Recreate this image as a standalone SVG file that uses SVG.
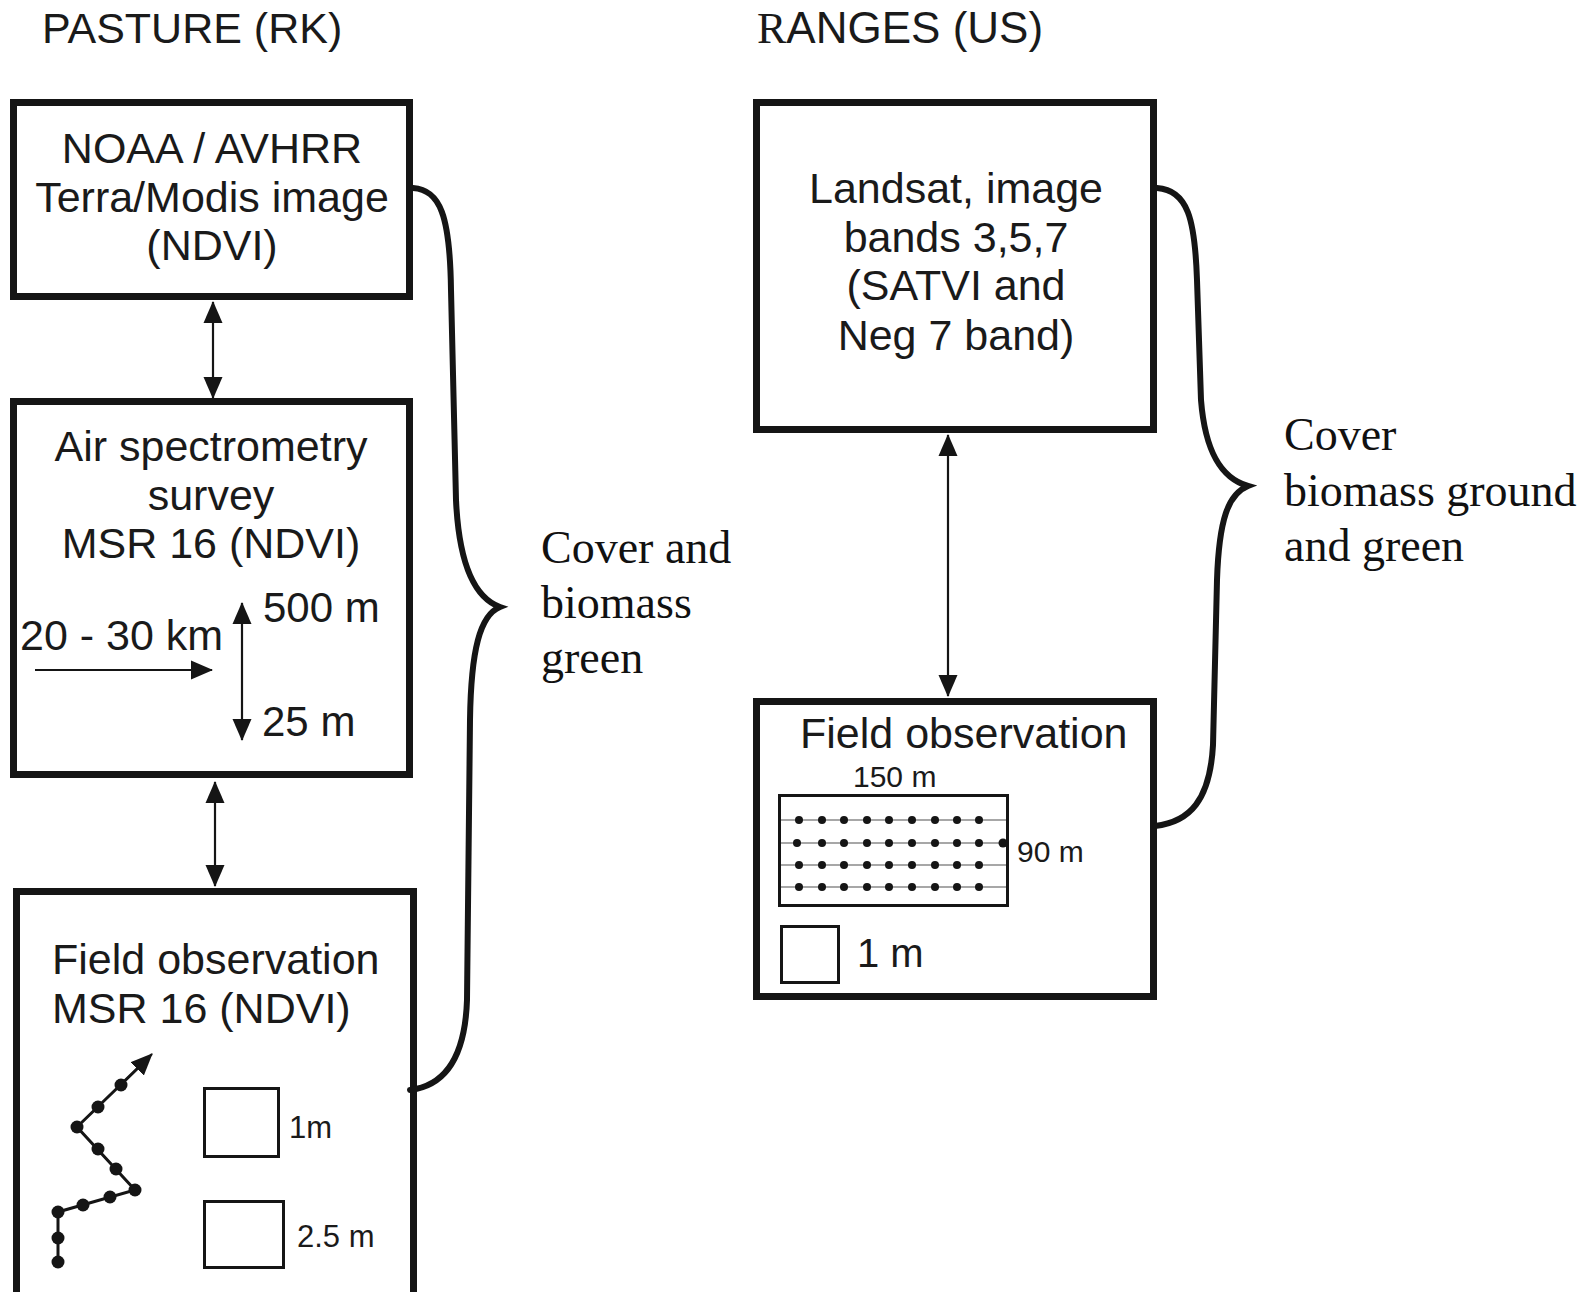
<svg xmlns="http://www.w3.org/2000/svg" width="1592" height="1292" viewBox="0 0 1592 1292">
<style>
.box{fill:none;stroke:#151515;stroke-width:7}
.thin{fill:none;stroke:#151515;stroke-width:3}
.conn{fill:none;stroke:#151515;stroke-width:2.2}
.brace{fill:none;stroke:#151515;stroke-width:6;stroke-linecap:round}
.grid{stroke:#8a8a8a;stroke-width:1.5}
.dot{fill:#151515}
.s{font-family:"Liberation Sans",Arial,sans-serif;fill:#1a1a1a}
.f{font-family:"Liberation Serif","Times New Roman",serif;fill:#111}
.rs{font-family:"Liberation Serif","Times New Roman",serif}
.c{text-anchor:middle}
</style>
<defs>
<marker id="arr" viewBox="0 0 22 20" refX="21" refY="10" markerWidth="22" markerHeight="20" markerUnits="userSpaceOnUse" orient="auto-start-reverse">
<path d="M0,0.5 L22,10 L0,19.5 z" fill="#151515"/>
</marker>
</defs>
<rect width="1592" height="1292" fill="#fff"/>

<g id="headings">
<text class="s" x="42" y="43" font-size="43">PASTURE (RK)</text>
<text class="s" x="757" y="43" font-size="44"><tspan class="rs">R</tspan>ANGES (US)</text>
</g>

<g id="noaa">
<rect class="box" x="13.5" y="102.5" width="396" height="194"/>
<text class="s c" x="212" y="163" font-size="43">NOAA / AVHRR</text>
<text class="s c" x="212" y="212" font-size="43">Terra/Modis image</text>
<text class="s c" x="212" y="260" font-size="43">(NDVI)</text>
</g>

<g id="air">
<rect class="box" x="13.5" y="401.5" width="396" height="373"/>
<text class="s c" x="211" y="461" font-size="43">Air spectrometry</text>
<text class="s c" x="211" y="510" font-size="43">survey</text>
<text class="s c" x="211" y="558" font-size="43">MSR 16 (NDVI)</text>
<text class="s" x="263" y="622" font-size="42">500 m</text>
<text class="s" x="20" y="650" font-size="43">20 - 30 km</text>
<text class="s" x="262" y="736" font-size="42">25 m</text>
<line class="conn" x1="35" y1="670" x2="212" y2="670" stroke-width="2.5" marker-end="url(#arr)"/>
<line class="conn" x1="242" y1="603" x2="242" y2="740" stroke-width="2.5" marker-start="url(#arr)" marker-end="url(#arr)"/>
</g>

<g id="field-rk">
<rect class="box" x="16.5" y="891.5" width="397" height="430"/>
<text class="s" x="52" y="974" font-size="43">Field observation</text>
<text class="s" x="52" y="1023" font-size="43">MSR 16 (NDVI)</text>
<polyline class="thin" points="58,1262 58,1212 135,1190 77,1127 140,1066"/>
<line class="conn" x1="121" y1="1085" x2="152" y2="1054" stroke-width="3" marker-end="url(#arr)"/>
<g class="dot">
<circle cx="58" cy="1262" r="6.5"/><circle cx="58" cy="1238" r="6.5"/><circle cx="58" cy="1212" r="6.5"/>
<circle cx="83" cy="1205" r="6.5"/><circle cx="110" cy="1197" r="6.5"/><circle cx="135" cy="1190" r="6.5"/>
<circle cx="116" cy="1169" r="6.5"/><circle cx="98" cy="1149" r="6.5"/><circle cx="77" cy="1127" r="6.5"/>
<circle cx="98" cy="1107" r="6.5"/><circle cx="121" cy="1085" r="6.5"/>
</g>
<rect class="thin" x="204.5" y="1088.5" width="74" height="68"/>
<text class="s" x="289" y="1138" font-size="31">1m</text>
<rect class="thin" x="204.5" y="1201.5" width="79" height="66"/>
<text class="s" x="297" y="1247" font-size="31">2.5 m</text>
</g>

<g id="landsat">
<rect class="box" x="756.5" y="102.5" width="397" height="327"/>
<text class="s c" x="956" y="203" font-size="43">Landsat, image</text>
<text class="s c" x="956" y="252" font-size="43">bands 3,5,7</text>
<text class="s c" x="956" y="300" font-size="43">(SATVI and</text>
<text class="s c" x="956" y="350" font-size="43">Neg 7 band)</text>
</g>

<g id="field-us">
<rect class="box" x="756.5" y="701.5" width="397" height="295"/>
<text class="s" x="800" y="748" font-size="43">Field observation</text>
<text class="s" x="853" y="787" font-size="30">150 m</text>
<rect class="thin" x="779.5" y="795.5" width="228" height="110"/>
<g class="grid">
<line x1="781" y1="820" x2="1006" y2="820"/>
<line x1="781" y1="843" x2="1006" y2="843"/>
<line x1="781" y1="865" x2="1006" y2="865"/>
<line x1="781" y1="887" x2="1006" y2="887"/>
</g>
<g class="dot">
<circle cx="799" cy="820" r="4"/><circle cx="822" cy="820" r="4"/><circle cx="844" cy="820" r="4"/><circle cx="867" cy="820" r="4"/><circle cx="889" cy="820" r="4"/><circle cx="912" cy="820" r="4"/><circle cx="935" cy="820" r="4"/><circle cx="957" cy="820" r="4"/><circle cx="979" cy="820" r="4"/>
<circle cx="797" cy="843" r="4"/><circle cx="822" cy="843" r="4"/><circle cx="844" cy="843" r="4"/><circle cx="867" cy="843" r="4"/><circle cx="889" cy="843" r="4"/><circle cx="912" cy="843" r="4"/><circle cx="935" cy="843" r="4"/><circle cx="957" cy="843" r="4"/><circle cx="979" cy="843" r="4"/><circle cx="1003" cy="843" r="4.5"/>
<circle cx="799" cy="865" r="4"/><circle cx="822" cy="865" r="4"/><circle cx="844" cy="865" r="4"/><circle cx="867" cy="865" r="4"/><circle cx="889" cy="865" r="4"/><circle cx="912" cy="865" r="4"/><circle cx="935" cy="865" r="4"/><circle cx="957" cy="865" r="4"/><circle cx="979" cy="865" r="4"/>
<circle cx="799" cy="887" r="4"/><circle cx="822" cy="887" r="4"/><circle cx="844" cy="887" r="4"/><circle cx="867" cy="887" r="4"/><circle cx="889" cy="887" r="4"/><circle cx="912" cy="887" r="4"/><circle cx="935" cy="887" r="4"/><circle cx="957" cy="887" r="4"/><circle cx="979" cy="887" r="4"/>
</g>
<text class="s" x="1017" y="862" font-size="30">90 m</text>
<rect class="thin" x="781.5" y="926.5" width="57" height="56"/>
<text class="s" x="857" y="967" font-size="40">1 m</text>
</g>

<g id="connectors">
<line class="conn" x1="213" y1="302" x2="213" y2="398" marker-start="url(#arr)" marker-end="url(#arr)"/>
<line class="conn" x1="215" y1="782" x2="215" y2="886" marker-start="url(#arr)" marker-end="url(#arr)"/>
<line class="conn" x1="948" y1="435" x2="948" y2="696" marker-start="url(#arr)" marker-end="url(#arr)"/>
<path class="brace" d="M413,188 C440,190 450,215 451,290 L456,500 C459,565 475,598 500,607 C480,615 471,650 470,720 L467,1000 C465,1060 443,1086 410,1090"/>
<path class="brace" d="M1157,188 C1188,190 1195,220 1197,280 L1201,400 C1205,450 1220,478 1248,486 C1228,494 1219,520 1217,580 L1213,745 C1210,800 1190,822 1155,826"/>
</g>

<g id="labels">
<text class="f" x="541" y="563" font-size="46">Cover and</text>
<text class="f" x="541" y="618" font-size="46">biomass</text>
<text class="f" x="541" y="673" font-size="46">green</text>
<text class="f" x="1284" y="450" font-size="46">Cover</text>
<text class="f" x="1284" y="506" font-size="46">biomass ground</text>
<text class="f" x="1284" y="561" font-size="46">and green</text>
</g>
</svg>
